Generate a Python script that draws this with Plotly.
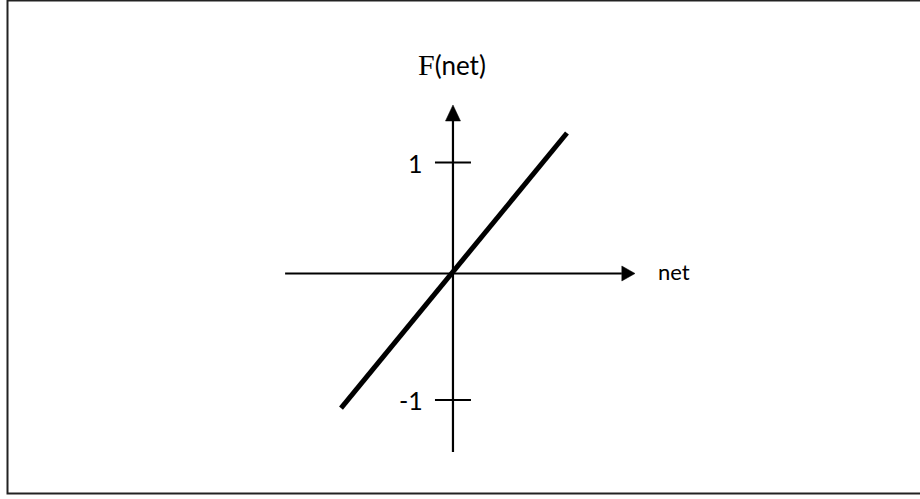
import plotly.graph_objects as go

# ---- data (in chart units) ----
line_net = [-1.147, 1.168]
line_F = [-1.133, 1.183]
x_axis_span = [-1.72, 1.73]       # horizontal axis line (to arrow base)
x_arrow_tip = 1.865
y_axis_span = [-1.503, 1.284]     # vertical axis line (to arrow base)
y_arrow_tip = 1.419
tick_vals = [0.934, -1.065]
tick_labels = ["1", "-1"]
x_label = "net"
y_label = "F(net)"

W, H = 920, 499
XR = [-4.641, 4.785]
YR = [-1.899, 2.303]
ux = (XR[1] - XR[0]) / W   # units per px
uy = (YR[1] - YR[0]) / H

BLACK = "#000000"
fig = go.Figure()

# axes lines
fig.add_trace(go.Scatter(x=x_axis_span, y=[0, 0], mode="lines",
                         line=dict(color=BLACK, width=2.2), hoverinfo="skip"))
fig.add_trace(go.Scatter(x=[0, 0], y=y_axis_span, mode="lines",
                         line=dict(color=BLACK, width=2.2), hoverinfo="skip"))
# arrowheads
ah = 7.5
fig.add_trace(go.Scatter(x=[x_axis_span[1], x_arrow_tip, x_axis_span[1], x_axis_span[1]],
                         y=[ah * uy, 0, -ah * uy, ah * uy], mode="lines", fill="toself",
                         fillcolor=BLACK, line=dict(color=BLACK, width=0.5), hoverinfo="skip"))
fig.add_trace(go.Scatter(x=[-ah * ux, 0, ah * ux, -ah * ux],
                         y=[y_axis_span[1], y_arrow_tip, y_axis_span[1], y_axis_span[1]], mode="lines",
                         fill="toself", fillcolor=BLACK, line=dict(color=BLACK, width=0.5),
                         hoverinfo="skip"))
# ticks
tl = 18
for tv in tick_vals:
    fig.add_trace(go.Scatter(x=[-tl * ux, tl * ux], y=[tv, tv], mode="lines",
                             line=dict(color=BLACK, width=2), hoverinfo="skip"))
# function line
fig.add_trace(go.Scatter(x=line_net, y=line_F, mode="lines",
                         line=dict(color=BLACK, width=5), hoverinfo="skip"))

FAM = "Lato, Open Sans, sans-serif"
anns = []
for tv, lab in zip(tick_vals, tick_labels):
    anns.append(dict(x=-28 * ux, y=tv, text=lab, showarrow=False, xanchor="right",
                     yanchor="middle", font=dict(family=FAM, size=25, color=BLACK)))
anns.append(dict(x=x_arrow_tip + 21 * ux, y=2 * uy, text=x_label, showarrow=False,
                 xanchor="left", yanchor="middle", font=dict(family=FAM, size=22, color=BLACK)))
anns.append(dict(x=-1 * ux, y=1.731 + 3 * uy,
                 text="<span style='font-family:Liberation Serif;font-size:30px'>F</span>(net)",
                 showarrow=False, xanchor="center", yanchor="middle",
                 font=dict(family=FAM, size=26, color=BLACK)))

fig.update_layout(
    width=W, height=H, margin=dict(l=0, r=0, t=0, b=0),
    paper_bgcolor="white", plot_bgcolor="white", showlegend=False,
    xaxis=dict(range=XR, visible=False, fixedrange=True),
    yaxis=dict(range=YR, visible=False, fixedrange=True),
    annotations=anns,
    shapes=[dict(type="rect", xref="paper", yref="paper",
                 x0=7.5 / W, x1=1.05, y0=5.5 / H, y1=1.0 - 0.5 / H,
                 line=dict(color="#222222", width=2), layer="above")],
)
fig.write_html("out.html", config={"displayModeBar": False},
               post_script="document.body.style.margin='0';")
